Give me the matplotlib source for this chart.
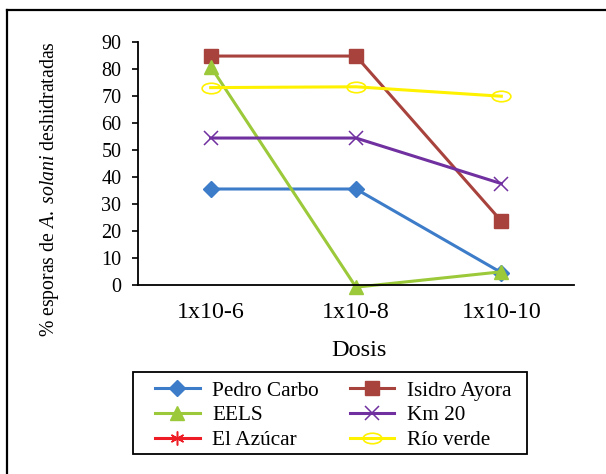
import numpy as np
import matplotlib
matplotlib.use("Agg")
import matplotlib.pyplot as plt
from matplotlib.path import Path
from matplotlib.lines import Line2D
from matplotlib.patches import Rectangle
from matplotlib.transforms import Affine2D

plt.rcParams["font.family"] = ["Liberation Serif", "DejaVu Serif"]
plt.rcParams["mathtext.fontset"] = "custom"
plt.rcParams["mathtext.rm"] = "Liberation Serif"
plt.rcParams["mathtext.it"] = "Liberation Serif:italic"

# Data
doses = ["1x10-6", "1x10-8", "1x10-10"]
pedro_carbo = [35.6, 35.6, 4.6]
isidro_ayora = [84.9, 84.9, 23.7]
eels = [81.0, -0.8, 4.9]
km_20 = [54.5, 54.5, 37.6]
el_azucar = [np.nan, np.nan, np.nan]
rio_verde = [73.2, 73.5, 70.0]

W, H, DPI = 606, 474, 100
fig = plt.figure(figsize=(W / DPI, H / DPI), dpi=DPI)

def fx(px):
    return px / W

def fy(py):
    return 1 - py / H

ax = fig.add_axes([fx(138), fy(285), fx(574) - fx(138), fy(42.3) - fy(285)])

# flattened ellipse marker for Río verde
ellipse = Path.unit_circle().transformed(Affine2D().scale(1.0, 0.56))

x = np.arange(len(doses)) + 0.5
lw = 2.2
series = [
    ("Pedro Carbo", pedro_carbo, dict(color="#3D7CC9", marker="D", ms=8,
                                      mfc="#3D7CC9", mec="#3D7CC9")),
    ("Isidro Ayora", isidro_ayora, dict(color="#A8423D", marker="s", ms=9.5,
                                        mfc="#A8423D", mec="#A8423D")),
    ("EELS", eels, dict(color="#9BC93A", marker="^", ms=10,
                        mfc="#9BC93A", mec="#9BC93A")),
    ("Km 20", km_20, dict(color="#7030A0", marker="x", ms=9.5, mew=1.1)),
    ("El Azúcar", el_azucar, dict(color="#EE1C25", marker=(6, 2, 0), ms=10, mew=1.1)),
    ("Río verde", rio_verde, dict(color="#FFF200", marker=ellipse, ms=13.5,
                                  mfc="none", mec="#FFF200", mew=1.2)),
]

handles = {}
for name, vals, style in series:
    (ln,) = ax.plot(x, vals, lw=lw, clip_on=False, label=name, **style)
    handles[name] = ln

ax.set_xlim(0, 3)
ax.set_ylim(0, 90)
ax.set_yticks(np.arange(0, 91, 10))
ax.set_xticks(x)
ax.set_xticklabels(doses)
for side in ("top", "right"):
    ax.spines[side].set_visible(False)
ax.spines["left"].set_linewidth(1.3)
ax.spines["bottom"].set_linewidth(1.3)
ax.tick_params(axis="y", direction="out", length=4, width=1.2, labelsize=14.5, pad=8)
ax.tick_params(axis="x", length=0, labelsize=17.3, pad=12.5)

fig.text(fx(50), fy(189), r"% esporas de $\mathit{A.\ solani}$ deshidratadas",
         rotation=90, ha="center", va="center", fontsize=14.2)
fig.text(fx(359), fy(351), "Dosis", ha="center", va="center", fontsize=17.5)

order = ["Pedro Carbo", "EELS", "El Azúcar", "Isidro Ayora", "Km 20", "Río verde"]
leg = fig.legend([handles[n] for n in order], order, ncol=2,
                 loc="upper left", bbox_to_anchor=(fx(155), fy(381)),
                 bbox_transform=fig.transFigure, fontsize=15.3,
                 frameon=False,
                 handlelength=2.1, handletextpad=0.6, columnspacing=1.45,
                 labelspacing=0.22, borderpad=0, borderaxespad=0)

# legend box
fig.add_artist(Rectangle((fx(133), fy(454)), fx(527) - fx(133), fy(372) - fy(454),
                         transform=fig.transFigure, fill=False,
                         edgecolor="black", lw=1.3))

# outer chart border
fig.add_artist(Line2D([fx(7), fx(606)], [fy(10), fy(10)], color="black", lw=1.6,
                      transform=fig.transFigure))
fig.add_artist(Line2D([fx(7), fx(7)], [fy(10), fy(474)], color="black", lw=1.6,
                      transform=fig.transFigure))

fig.savefig("out.png", dpi=DPI)
